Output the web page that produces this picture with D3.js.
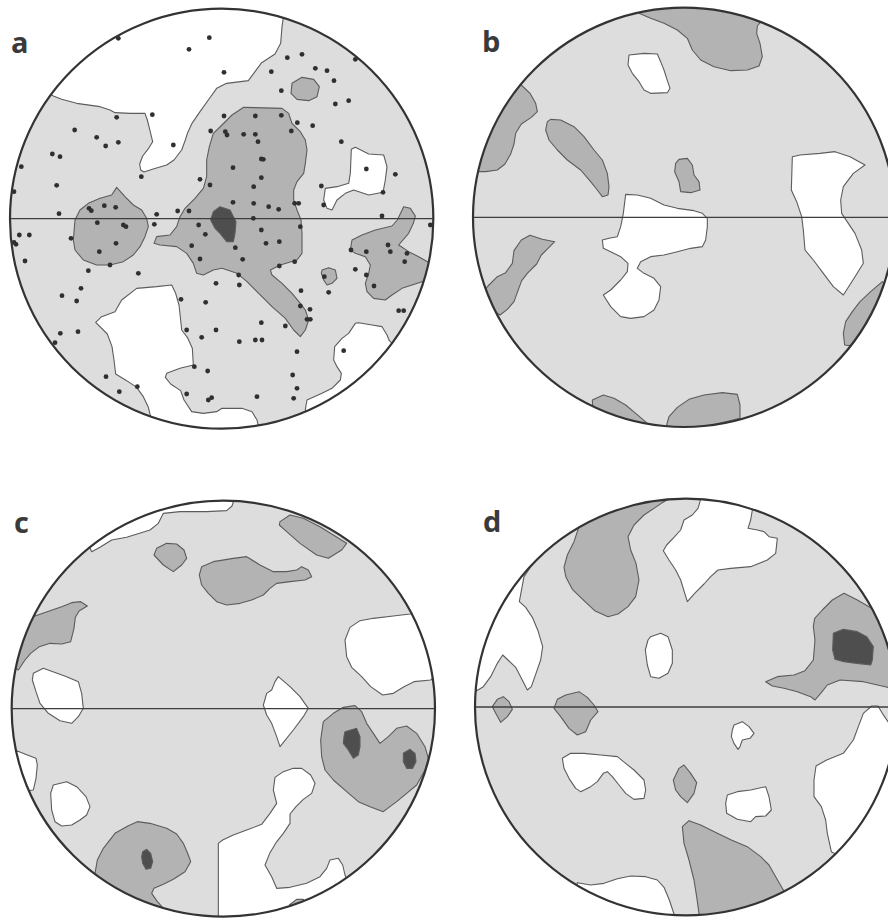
<!DOCTYPE html>
<html>
<head>
<meta charset="utf-8">
<script src="https://cdn.jsdelivr.net/npm/d3@7"></script>
<style>
  html, body { margin: 0; padding: 0; background: #fff; }
  svg { display: block; }
</style>
</head>
<body>
<svg id="chart" width="888" height="920"></svg>
<script>
// Contoured pole-density nets, four panels (a–d).
// Every outline is digitised on a per-panel grid (0–1332 units across a 444 px cell),
// the net itself being the ellipse given by `centre` and `radii` on that grid.
// Contour classes: white = below the lowest contour, light = base level,
// medium = second contour, dark = highest contour.

// ---------- panel a ----------
const aWhite = [
  [[160,288],[185,298],[230,310],[300,320],[330,330],[345,338],[390,340],[435,340],[442,360],[450,392],[458,425],[446,445],[428,468],[419,492],[422,510],[432,516],[462,506],[500,495],[522,480],[545,450],[556,420],[563,398],[576,370],[600,335],[625,300],[650,265],[680,250],[745,242],[765,215],[785,188],[825,162],[842,130],[846,80],[852,40],[870,0],[0,0],[0,250],[120,265]],
  [[1054,448],[1066,442],[1106,462],[1151,465],[1161,500],[1156,540],[1149,577],[1106,585],[1061,570],[1036,580],[1011,600],[996,630],[981,625],[971,600],[976,565],[1011,560],[1046,550],[1051,520]],
  [[455,1262],[445,1222],[430,1190],[410,1162],[380,1142],[347,1122],[342,1080],[336,1040],[322,1002],[287,967],[305,950],[345,935],[365,900],[410,865],[470,860],[515,855],[527,880],[537,915],[542,960],[545,990],[562,1012],[577,1045],[580,1095],[540,1105],[500,1120],[496,1132],[512,1152],[542,1172],[552,1200],[575,1235],[610,1240],[650,1235],[666,1225],[726,1225],[756,1235],[771,1260],[780,1300],[600,1330],[430,1300]],
  [[916,1228],[921,1200],[966,1180],[996,1165],[1021,1140],[1024,1120],[1011,1100],[1001,1080],[1004,1040],[1026,1015],[1046,1000],[1066,970],[1076,968],[1116,975],[1146,980],[1161,1005],[1168,1022],[1250,1100],[950,1320]]
];
const aMedium = [
  [[350,562],[375,590],[400,615],[425,630],[440,655],[445,680],[435,710],[420,740],[400,765],[370,785],[330,795],[290,795],[250,780],[225,750],[220,720],[225,660],[240,630],[265,610],[300,595],[335,585]],
  [[731,322],[846,325],[866,340],[876,370],[901,395],[916,420],[921,450],[916,490],[911,520],[891,545],[881,570],[881,600],[891,630],[903,660],[906,700],[906,760],[891,780],[841,795],[811,810],[816,825],[846,850],[876,880],[901,910],[916,930],[926,960],[916,990],[901,1010],[881,990],[856,955],[816,920],[776,880],[741,845],[711,820],[666,805],[640,810],[610,825],[590,820],[580,790],[560,760],[530,740],[480,735],[462,730],[470,710],[510,705],[530,680],[540,650],[555,625],[585,595],[610,565],[620,530],[620,480],[628,440],[640,400],[666,375],[696,345]],
  [[876,250],[906,232],[941,238],[958,260],[951,290],[926,302],[891,298],[873,280]],
  [[1051,750],[1056,720],[1086,705],[1126,690],[1176,678],[1192,660],[1211,620],[1231,625],[1246,648],[1240,670],[1226,700],[1196,735],[1226,755],[1256,770],[1290,790],[1320,830],[1266,845],[1236,855],[1206,865],[1176,885],[1156,900],[1121,895],[1101,875],[1096,850],[1106,820],[1111,795],[1096,770],[1066,760]],
  [[966,810],[986,803],[1006,810],[1011,835],[996,850],[981,855],[971,840],[964,820]]
];
const aDark = [
  [[660,620],[690,630],[708,665],[705,700],[700,725],[680,725],[660,700],[645,685],[632,660],[640,635]]
];
// plotted poles (panel a only)
const aPoles = [
  [355,115],[628,113],[567,148],[672,217],[457,344],[350,352],[224,390],[290,412],[355,427],[317,438],[520,435],[157,462],[180,470],[64,500],[424,530],[170,556],[600,538],[632,393],[630,555],[42,575],[177,641],[267,625],[274,632],[313,617],[347,622],[470,643],[533,633],[567,633],
  [906,163],[862,173],[1066,178],[814,215],[946,205],[981,212],[1002,242],[844,272],[1006,312],[1046,302],[672,348],[766,348],[844,346],[892,368],[938,377],[676,395],[681,405],[731,403],[766,403],[774,425],[874,393],[1024,425],[784,477],[790,478],[699,503],[784,533],[1099,507],[1186,523],[761,560],[964,558],[1149,577],[699,607],[761,610],[806,620],[836,628],[884,610],[896,610],[971,615],[1146,648],
  [58,705],[88,705],[42,727],[48,733],[75,783],[213,715],[298,755],[348,730],[292,668],[370,675],[378,680],[463,673],[330,795],[265,812],[415,820],[243,865],[186,887],[230,903],[181,1000],[234,995],[165,1028],[318,1130],[358,1175],[412,1160],[543,898],[617,907],[560,990],[605,1012],[648,990],[583,1100],[623,1113],[560,1182],[625,1200],[635,1193],[596,675],[616,703],[575,737],[600,777],[648,850],
  [784,690],[798,730],[838,725],[901,680],[706,743],[728,778],[838,798],[884,785],[716,825],[718,855],[903,872],[986,877],[973,830],[1066,808],[1053,750],[1099,755],[1099,825],[1122,858],[1164,735],[1171,755],[1221,760],[1214,785],[1196,932],[1211,932],[1291,675],[901,918],[930,928],[921,958],[931,958],[856,978],[784,968],[718,1025],[766,1020],[786,1020],[891,1055],[1031,1052],[878,1125],[891,1165],[881,1195],[771,1190],[760,655]
];

// ---------- panel b ----------
const bWhite = [
  [[765,38],[780,50],[810,55],[845,52],[862,45],[870,0],[760,0]],
  [[555,165],[600,160],[640,162],[650,185],[660,210],[668,235],[678,265],[670,278],[620,280],[600,270],[585,245],[565,220],[552,195]],
  [[545,583],[580,585],[620,595],[660,615],[700,625],[750,632],[775,640],[790,655],[790,680],[785,720],[775,740],[740,745],[700,755],[660,765],[620,770],[590,785],[580,805],[600,820],[630,835],[650,860],[645,900],[630,930],[600,950],[560,955],[530,950],[500,920],[478,885],[500,870],[530,840],[550,815],[552,790],[530,770],[500,755],[478,745],[475,720],[495,715],[520,710],[530,680],[538,640]],
  [[1045,470],[1068,465],[1128,460],[1173,455],[1218,470],[1263,495],[1228,520],[1198,560],[1190,600],[1193,640],[1213,670],[1233,700],[1253,750],[1258,790],[1233,830],[1198,885],[1168,860],[1138,820],[1108,780],[1083,750],[1078,690],[1073,650],[1058,605],[1042,570]]
];
const bMedium = [
  [[585,40],[620,55],[660,70],[700,90],[730,115],[745,150],[770,180],[810,200],[860,212],[910,210],[945,198],[955,170],[948,130],[938,100],[940,78],[955,60],[960,0],[580,0]],
  [[235,258],[258,280],[275,310],[280,335],[262,352],[232,372],[215,400],[210,432],[200,462],[183,492],[160,510],[125,515],[100,515],[50,400],[200,230]],
  [[320,358],[350,360],[390,380],[420,410],[450,450],[475,480],[490,520],[495,560],[492,585],[475,590],[460,570],[440,545],[410,510],[370,480],[340,450],[315,420],[305,390],[310,365]],
  [[705,478],[730,475],[745,495],[750,525],[765,545],[768,570],[740,578],[710,575],[705,545],[692,515],[695,490]],
  [[132,858],[160,830],[185,818],[205,790],[210,752],[232,720],[258,706],[295,718],[332,725],[312,745],[292,765],[278,792],[252,818],[233,842],[222,872],[210,905],[190,928],[168,945],[100,900]],
  [[1315,845],[1280,875],[1248,905],[1225,935],[1205,965],[1198,1000],[1202,1035],[1240,1040],[1380,900]],
  [[445,1200],[478,1185],[510,1195],[545,1215],[575,1240],[610,1270],[450,1290]],
  [[668,1275],[675,1250],[700,1222],[735,1198],[780,1185],[835,1178],[880,1183],[888,1215],[888,1255],[700,1300]]
];
const bDark = [];

// ---------- panel c ----------
const cWhite = [
  [[275,275],[300,262],[335,240],[380,232],[450,210],[475,190],[490,160],[540,155],[620,155],[680,152],[696,138],[705,110],[200,100]],
  [[1230,462],[1180,468],[1120,475],[1080,482],[1050,502],[1035,540],[1040,590],[1055,622],[1085,650],[1112,680],[1148,705],[1180,700],[1212,680],[1242,665],[1292,660],[1350,600],[1300,450]],
  [[100,640],[130,625],[200,650],[235,665],[245,700],[250,745],[235,770],[215,790],[180,782],[145,760],[120,730],[108,695],[97,660]],
  [[835,650],[870,680],[900,710],[925,745],[910,770],[880,810],[840,860],[830,830],[815,790],[800,765],[790,735],[800,700],[815,690],[825,665]],
  [[50,872],[82,885],[108,895],[112,915],[108,955],[100,990],[30,1000]],
  [[160,975],[200,965],[230,980],[258,1010],[270,1040],[260,1065],[240,1080],[215,1095],[185,1098],[165,1085],[155,1050],[152,1000]],
  [[655,1400],[655,1230],[655,1150],[668,1140],[700,1125],[740,1110],[785,1093],[810,1060],[830,1030],[820,990],[825,952],[850,935],[880,925],[905,925],[932,945],[945,970],[935,1000],[910,1018],[888,1040],[870,1062],[870,1090],[850,1120],[828,1148],[810,1178],[795,1215],[815,1250],[830,1285],[870,1282],[920,1270],[960,1250],[980,1225],[990,1200],[1015,1195],[1028,1215],[1035,1245],[1100,1400]]
];
const cMedium = [
  [[840,185],[870,165],[910,175],[960,200],[1000,225],[1040,250],[1025,270],[985,295],[950,285],[900,250],[860,215],[838,195]],
  [[470,265],[500,250],[530,252],[552,270],[560,295],[545,315],[520,335],[490,315],[462,285]],
  [[605,320],[640,305],[700,295],[740,290],[780,315],[820,335],[860,335],[890,330],[905,320],[925,330],[935,350],[915,360],[870,365],[830,370],[810,385],[790,405],[755,420],[720,430],[680,435],[650,425],[625,400],[605,375],[598,345]],
  [[105,468],[150,452],[185,440],[215,428],[242,425],[262,438],[238,452],[226,472],[222,505],[212,545],[185,552],[150,550],[118,560],[92,580],[75,600],[55,630],[0,600],[0,450]],
  [[970,785],[1000,760],[1030,742],[1065,737],[1085,755],[1100,790],[1120,820],[1140,850],[1165,830],[1190,805],[1220,798],[1250,820],[1275,860],[1285,895],[1275,930],[1250,975],[1220,1000],[1190,1025],[1150,1055],[1110,1040],[1075,1025],[1040,995],[1000,960],[975,930],[965,890],[962,840]],
  [[285,1240],[292,1200],[310,1165],[345,1120],[385,1097],[412,1085],[450,1090],[500,1105],[530,1122],[550,1150],[565,1185],[572,1205],[555,1235],[520,1258],[490,1273],[462,1285],[455,1300],[470,1322],[490,1345],[300,1350]],
  [[868,1335],[890,1318],[910,1318],[920,1345]]
];
const cDark = [
  [[1035,815],[1070,805],[1080,830],[1080,860],[1075,885],[1060,895],[1045,870],[1030,850],[1032,830]],
  [[1210,880],[1230,868],[1245,880],[1248,905],[1238,925],[1220,925],[1210,905]],
  [[428,1175],[440,1168],[452,1180],[458,1205],[452,1225],[438,1228],[428,1210],[425,1190]]
];

// ---------- panel d ----------
const dWhite = [
  [[770,100],[768,125],[762,145],[745,165],[720,180],[710,210],[690,232],[668,255],[658,272],[675,300],[695,330],[710,360],[730,425],[752,400],[780,372],[800,350],[822,330],[860,325],[920,320],[970,300],[995,280],[1000,235],[975,230],[960,215],[940,210],[912,205],[920,180],[925,150],[925,100]],
  [[305,260],[282,290],[262,318],[240,350],[226,425],[245,442],[265,472],[282,512],[296,560],[290,600],[276,640],[262,680],[250,690],[236,662],[215,622],[192,600],[176,585],[160,610],[140,650],[118,680],[98,692],[50,600],[200,250]],
  [[620,530],[650,520],[672,530],[685,570],[685,610],[672,640],[645,655],[620,650],[610,615],[604,570],[612,540]],
  [[1283,738],[1302,738],[1315,760],[1335,790],[1400,850],[1300,1250],[1162,1175],[1150,1120],[1145,1080],[1132,1040],[1110,1010],[1110,960],[1116,918],[1148,900],[1198,880],[1228,840],[1243,800],[1258,760]],
  [[870,795],[895,785],[915,800],[930,820],[918,835],[895,840],[888,860],[882,868],[870,850],[862,830],[865,810]],
  [[355,895],[380,880],[420,880],[470,885],[520,890],[545,910],[570,930],[600,960],[605,990],[600,1015],[570,1018],[545,1000],[525,975],[505,950],[490,935],[478,940],[460,965],[440,980],[410,995],[395,985],[375,955],[360,925]],
  [[850,1005],[880,995],[920,990],[965,980],[975,1010],[982,1050],[965,1068],[935,1070],[920,1085],[880,1078],[848,1060],[845,1030]],
  [[400,1268],[440,1275],[480,1270],[520,1256],[560,1248],[605,1250],[640,1260],[660,1282],[676,1320],[690,1362],[690,1420],[380,1380]]
];
const dMedium = [
  [[405,200],[390,245],[370,285],[360,322],[366,352],[385,388],[420,422],[452,452],[492,470],[522,462],[552,440],[575,410],[585,360],[576,310],[560,270],[552,230],[570,195],[600,165],[630,145],[652,130],[672,118],[600,60],[380,160]],
  [[1108,500],[1112,475],[1135,450],[1165,420],[1200,400],[1240,420],[1275,440],[1400,500],[1400,690],[1330,682],[1258,665],[1188,660],[1150,675],[1130,700],[1113,720],[1100,710],[1060,695],[1020,685],[985,678],[965,665],[1000,650],[1050,645],[1083,632],[1108,600],[1113,540]],
  [[160,718],[178,710],[195,725],[205,748],[190,770],[170,787],[158,765],[145,740]],
  [[340,718],[365,705],[405,695],[430,712],[450,735],[462,755],[440,780],[425,815],[400,825],[375,805],[350,770],[330,745]],
  [[705,925],[720,915],[740,940],[758,968],[750,1000],[730,1028],[710,1010],[695,990],[688,960]],
  [[715,1100],[735,1082],[770,1095],[820,1120],[862,1140],[910,1160],[950,1190],[975,1215],[995,1250],[1018,1290],[1050,1420],[760,1420],[765,1360],[758,1310],[750,1260],[735,1200],[720,1150]]
];
const dDark = [
  [[1168,520],[1198,508],[1240,515],[1268,530],[1288,560],[1285,600],[1280,615],[1238,610],[1200,605],[1173,598],[1166,570]]
];

// ---------- layout of the four cells ----------
const nets = [
  { key: "a", white: aWhite, medium: aMedium, dark: aDark, poles: aPoles, cell: [0, 0],     centre: [665, 656], radii: [635, 630], label: [11, 53] },
  { key: "b", white: bWhite, medium: bMedium, dark: bDark, poles: [],     cell: [444, 0],   centre: [720, 652], radii: [633, 629], label: [38, 52] },
  { key: "c", white: cWhite, medium: cMedium, dark: cDark, poles: [],     cell: [0, 460],   centre: [670, 746], radii: [635, 624], label: [14, 73] },
  { key: "d", white: dWhite, medium: dMedium, dark: dDark, poles: [],     cell: [444, 460], centre: [726, 741], radii: [633, 625], label: [39, 72] }
];

const GRID = 1332, CELL = 444;
const fills = { light: "#dddddd", white: "#ffffff", medium: "#b3b3b3", dark: "#4e4e4e" };
const contourStroke = "#5c5c5c";

const svg = d3.select("#chart");
const defs = svg.append("defs");

nets.forEach(net => {
  const x = d3.scaleLinear().domain([0, GRID]).range([net.cell[0], net.cell[0] + CELL]);
  const y = d3.scaleLinear().domain([0, GRID]).range([net.cell[1], net.cell[1] + CELL]);
  const cx = x(net.centre[0]), cy = y(net.centre[1]);
  const rx = x(net.centre[0] + net.radii[0]) - cx;
  const ry = y(net.centre[1] + net.radii[1]) - cy;

  const clipId = "clip-" + net.key;
  defs.append("clipPath").attr("id", clipId)
    .append("ellipse").attr("cx", cx).attr("cy", cy).attr("rx", rx).attr("ry", ry);

  const g = svg.append("g").attr("class", "net net-" + net.key);
  const inner = g.append("g").attr("clip-path", `url(#${clipId})`);

  // base level
  inner.append("ellipse")
    .attr("cx", cx).attr("cy", cy).attr("rx", rx).attr("ry", ry)
    .attr("fill", fills.light);

  const outline = d3.line().x(d => x(d[0])).y(d => y(d[1])).curve(d3.curveLinearClosed);

  [["white", net.white], ["medium", net.medium], ["dark", net.dark]].forEach(([cls, rings]) => {
    inner.append("g").attr("class", "level-" + cls)
      .selectAll("path").data(rings).join("path")
      .attr("d", outline)
      .attr("fill", fills[cls])
      .attr("stroke", contourStroke)
      .attr("stroke-width", 1.1)
      .attr("stroke-linejoin", "round");
  });

  // E–W diameter
  inner.append("line")
    .attr("x1", cx - rx).attr("x2", cx + rx)
    .attr("y1", cy).attr("y2", cy)
    .attr("stroke", "#3d3d3d").attr("stroke-width", 1.3);

  // poles
  g.append("g").attr("class", "poles")
    .selectAll("circle").data(net.poles).join("circle")
    .attr("cx", d => x(d[0])).attr("cy", d => y(d[1]))
    .attr("r", 2.4).attr("fill", "#2f2f2f");

  // primitive circle
  g.append("ellipse")
    .attr("cx", cx).attr("cy", cy).attr("rx", rx).attr("ry", ry)
    .attr("fill", "none").attr("stroke", "#333").attr("stroke-width", 2.2);

  // panel letter
  g.append("text")
    .attr("x", net.cell[0] + net.label[0]).attr("y", net.cell[1] + net.label[1])
    .attr("font-family", "'Open Sans', 'DejaVu Sans', sans-serif")
    .attr("font-weight", 700).attr("font-size", 29)
    .attr("fill", "#3a3a3a")
    .text(net.key);
});
</script>
</body>
</html>
